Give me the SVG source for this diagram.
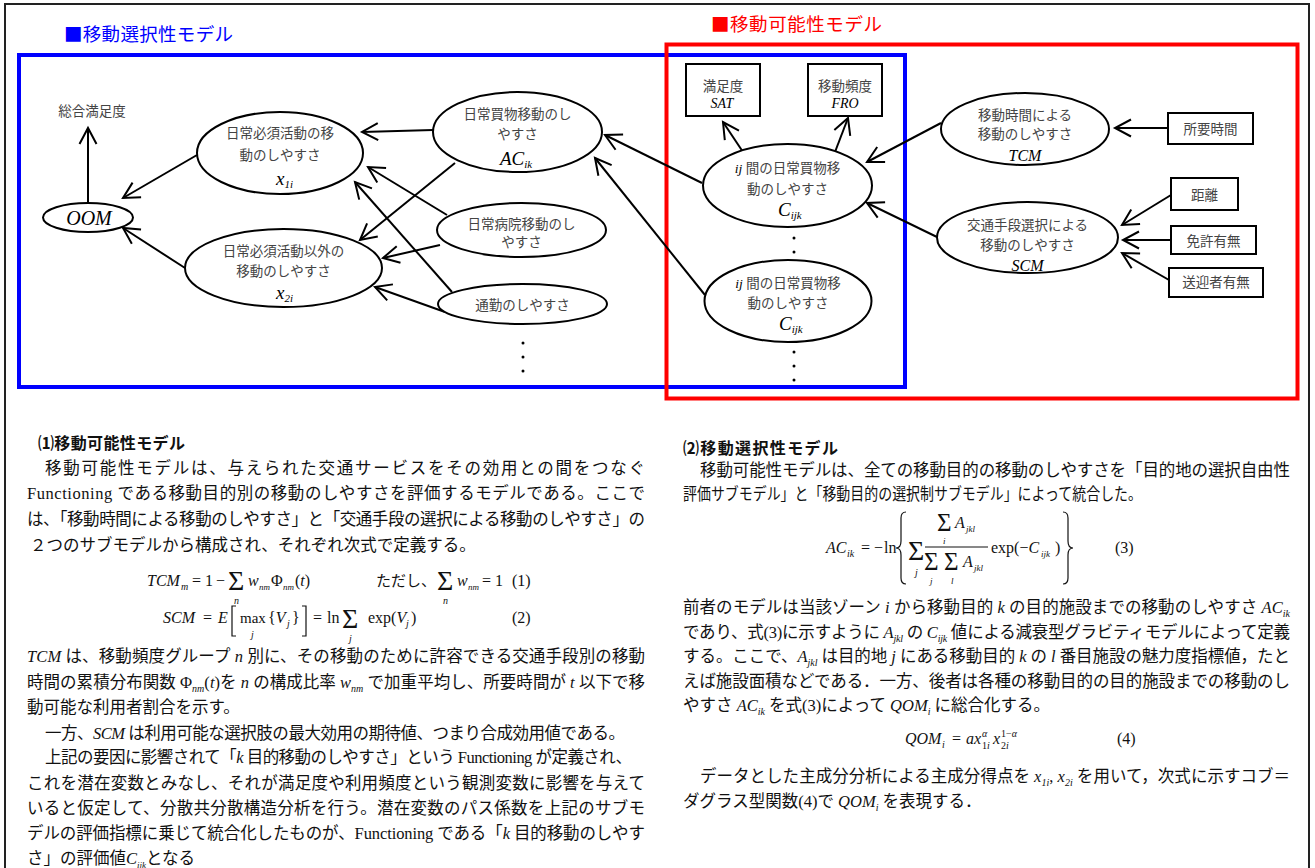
<svg xmlns="http://www.w3.org/2000/svg" width="1315" height="868" viewBox="0 0 1315 868">
<style>
.frame{fill:none;stroke:#222;stroke-width:2}
.nd ellipse,.nd rect{fill:#fff;stroke:#000;stroke-width:2}
.lbl{font-family:"Liberation Serif","Noto Sans CJK JP",serif;font-size:13.5px;fill:#444;text-anchor:middle}
.it{font-family:"Liberation Serif",serif;font-style:italic;fill:#000}
.conn line{stroke:#000;stroke-width:2;marker-end:url(#ah)}
.title{font-family:"Noto Sans CJK JP",sans-serif;font-size:18.5px}
.head{font-family:"Noto Sans CJK JP",sans-serif;font-size:16px;font-weight:bold;fill:#111}
.body{font-family:"Liberation Serif","Noto Sans CJK JP",serif;font-size:16.5px;fill:#111}
.eq{font-family:"Liberation Serif","Noto Sans CJK JP",serif;font-size:16px;fill:#111}
.sig{font-family:"Liberation Serif",serif}
.dot{fill:#000}
</style>
<defs>
<marker id="ah" markerUnits="userSpaceOnUse" markerWidth="22" markerHeight="22" viewBox="-19 -11 22 22" refX="0" refY="0" orient="auto" overflow="visible">
<path d="M-16,-8.5 L0,0 L-16,8.5" fill="none" stroke="#000" stroke-width="2"/>
</marker>
</defs>
<rect x="0" y="0" width="1315" height="868" fill="#fff"/>
<rect class="frame" x="5" y="4" width="1304" height="880"/>

<!-- frames -->
<g id="selectivity-frame">
<rect x="19" y="55" width="886" height="332" fill="none" stroke="#0000ff" stroke-width="4"/>
<text class="title" x="64" y="41" fill="#0000ff" textLength="169">■移動選択性モデル</text>
</g>
<g id="possibility-frame">
<rect x="666.5" y="44.5" width="631" height="354" fill="none" stroke="#ff0000" stroke-width="4"/>
<text class="title" x="711" y="31" fill="#ff0000" textLength="171">■移動可能性モデル</text>
</g>

<!-- connectors -->
<g id="connectors" class="conn">
<line x1="88" y1="203" x2="88" y2="128"/>
<line x1="197" y1="155" x2="123" y2="198"/>
<line x1="185" y1="268" x2="123" y2="228"/>
<line x1="433" y1="130" x2="362" y2="132"/>
<line x1="455" y1="163" x2="360" y2="240"/>
<line x1="447" y1="215" x2="368" y2="167"/>
<line x1="440" y1="245" x2="383" y2="258"/>
<line x1="452" y1="292" x2="355" y2="182"/>
<line x1="445" y1="312" x2="375" y2="287"/>
<line x1="702" y1="183" x2="605" y2="135"/>
<line x1="705" y1="295" x2="595" y2="158"/>
<line x1="743" y1="152" x2="723" y2="122"/>
<line x1="835" y1="152" x2="848" y2="118"/>
<line x1="941" y1="123" x2="867" y2="162"/>
<line x1="937" y1="237" x2="867" y2="203"/>
<line x1="1168" y1="128" x2="1115" y2="128"/>
<line x1="1171" y1="195" x2="1122" y2="225"/>
<line x1="1171" y1="240" x2="1123" y2="240"/>
<line x1="1169" y1="280" x2="1122" y2="253"/>
</g>

<!-- nodes -->
<g id="n-total">
<text class="lbl" x="92" y="116">総合満足度</text>
</g>
<g id="n-oom" class="nd">
<ellipse cx="88" cy="217.5" rx="45" ry="14.5"/>
<text class="it" x="89" y="225" font-size="20" text-anchor="middle">OOM</text>
</g>
<g id="n-x1" class="nd">
<ellipse cx="280" cy="153" rx="83" ry="41"/>
<text class="lbl" x="280" y="138">日常必須活動の移</text>
<text class="lbl" x="280" y="160">動のしやすさ</text>
<text class="it" x="276" y="185" font-size="19">x<tspan font-size="11" dy="3">1i</tspan></text>
</g>
<g id="n-x2" class="nd">
<ellipse cx="283.5" cy="268" rx="98.5" ry="39"/>
<text class="lbl" x="283.5" y="256">日常必須活動以外の</text>
<text class="lbl" x="283.5" y="276">移動のしやすさ</text>
<text class="it" x="276" y="299" font-size="19">x<tspan font-size="11" dy="3">2i</tspan></text>
</g>
<g id="n-ac" class="nd">
<ellipse cx="517.5" cy="132" rx="84.5" ry="40"/>
<text class="lbl" x="517.5" y="119">日常買物移動のし</text>
<text class="lbl" x="517.5" y="139">やすさ</text>
<text class="it" x="500" y="165" font-size="19">AC<tspan font-size="11" dy="3">ik</tspan></text>
</g>
<g id="n-hosp" class="nd">
<ellipse cx="521.5" cy="230" rx="84.5" ry="27"/>
<text class="lbl" x="521.5" y="229">日常病院移動のし</text>
<text class="lbl" x="521.5" y="247">やすさ</text>
</g>
<g id="n-commute" class="nd">
<ellipse cx="522.5" cy="304" rx="84.5" ry="20"/>
<text class="lbl" x="522.5" y="310">通勤のしやすさ</text>
</g>
<g id="dots-left">
<circle class="dot" cx="523" cy="343" r="1.5"/><circle class="dot" cx="523" cy="357" r="1.5"/><circle class="dot" cx="523" cy="371" r="1.5"/>
</g>
<g id="n-c1" class="nd">
<ellipse cx="787.5" cy="185.5" rx="84.5" ry="41.5"/>
<text class="lbl" x="787.5" y="173"><tspan class="it">ij</tspan> 間の日常買物移</text>
<text class="lbl" x="787.5" y="194">動のしやすさ</text>
<text class="it" x="778" y="216" font-size="19">C<tspan font-size="11" dy="3">ijk</tspan></text>
</g>
<g id="dots-mid">
<circle class="dot" cx="794" cy="238" r="1.5"/><circle class="dot" cx="794" cy="252" r="1.5"/>
</g>
<g id="n-c2" class="nd">
<ellipse cx="788" cy="301" rx="83.5" ry="41"/>
<text class="lbl" x="788" y="288"><tspan class="it">ij</tspan> 間の日常買物移</text>
<text class="lbl" x="788" y="308">動のしやすさ</text>
<text class="it" x="779" y="330" font-size="19">C<tspan font-size="11" dy="3">ijk</tspan></text>
</g>
<g id="dots-right">
<circle class="dot" cx="794" cy="352" r="1.5"/><circle class="dot" cx="794" cy="366" r="1.5"/><circle class="dot" cx="794" cy="380" r="1.5"/>
</g>
<g id="n-sat" class="nd">
<rect x="686" y="64" width="74" height="52"/>
<text class="lbl" x="723" y="91">満足度</text>
<text class="it" x="722" y="108" font-size="14" text-anchor="middle">SAT</text>
</g>
<g id="n-fro" class="nd">
<rect x="808" y="64" width="74" height="52"/>
<text class="lbl" x="845" y="91">移動頻度</text>
<text class="it" x="845" y="108" font-size="14" text-anchor="middle">FRO</text>
</g>
<g id="n-tcm" class="nd">
<ellipse cx="1025" cy="129" rx="84" ry="36"/>
<text class="lbl" x="1025" y="120">移動時間による</text>
<text class="lbl" x="1025" y="139">移動のしやすさ</text>
<text class="it" x="1025" y="161" font-size="16" text-anchor="middle">TCM</text>
</g>
<g id="n-time" class="nd">
<rect x="1168" y="113" width="85" height="31"/>
<text class="lbl" x="1210.5" y="134">所要時間</text>
</g>
<g id="n-scm" class="nd">
<ellipse cx="1027.5" cy="237.5" rx="90.5" ry="35.5"/>
<text class="lbl" x="1027.5" y="230">交通手段選択による</text>
<text class="lbl" x="1027.5" y="250">移動のしやすさ</text>
<text class="it" x="1027.5" y="271" font-size="16" text-anchor="middle">SCM</text>
</g>
<g id="n-dist" class="nd">
<rect x="1171" y="178" width="67" height="32"/>
<text class="lbl" x="1204.5" y="200">距離</text>
</g>
<g id="n-license" class="nd">
<rect x="1171" y="226" width="85" height="28"/>
<text class="lbl" x="1213.5" y="246">免許有無</text>
</g>
<g id="n-pickup" class="nd">
<rect x="1169" y="268" width="94" height="29"/>
<text class="lbl" x="1216" y="287">送迎者有無</text>
</g>

<!-- left column text -->
<g id="text-left">
<text class="head" x="38" y="449" textLength="147">⑴移動可能性モデル</text>
<text class="body" x="45" y="474" textLength="600">移動可能性モデルは、与えられた交通サービスをその効用との間をつなぐ</text>
<text class="body" x="27" y="499" textLength="618">Functioning である移動目的別の移動のしやすさを評価するモデルである。ここで</text>
<text class="body" x="27" y="525" textLength="618">は、「移動時間による移動のしやすさ」と「交通手段の選択による移動のしやすさ」の</text>
<text class="body" x="30" y="551">２つのサブモデルから構成され、それぞれ次式で定義する。</text>

<g id="eq1" class="eq">
<text x="147" y="586" font-style="italic">TCM</text>
<text x="181" y="590" font-size="10" font-style="italic">m</text>
<text x="192" y="586">=</text><text x="205" y="586">1</text><text x="216" y="586">−</text>
<text class="sig" x="228" y="590" font-size="28">Σ</text>
<text x="234" y="604" font-size="10" font-style="italic">n</text>
<text x="248" y="586" font-style="italic">w</text>
<text x="259" y="590" font-size="9" font-style="italic">nm</text>
<text x="271" y="586">Φ</text>
<text x="283" y="590" font-size="9" font-style="italic">nm</text>
<text x="295" y="586">(<tspan font-style="italic">t</tspan>)</text>
<text x="376" y="586" font-size="15">ただし、</text>
<text class="sig" x="437" y="590" font-size="28">Σ</text>
<text x="443" y="604" font-size="10" font-style="italic">n</text>
<text x="457" y="586" font-style="italic">w</text>
<text x="468" y="590" font-size="9" font-style="italic">nm</text>
<text x="482" y="586">=</text><text x="495" y="586">1</text>
<text x="512" y="586">(1)</text>
</g>
<g id="eq2" class="eq">
<text x="163" y="623" font-style="italic">SCM</text>
<text x="203" y="623">=</text>
<text x="218" y="623" font-style="italic">E</text>
<path d="M236,606 L232,606 L232,636 L236,636" fill="none" stroke="#111" stroke-width="1.2"/>
<text x="240" y="623" font-size="15">max</text>
<text x="251" y="638" font-size="10" font-style="italic">j</text>
<text x="268" y="623">{<tspan font-style="italic">V</tspan></text>
<text x="287" y="627" font-size="10" font-style="italic">j</text>
<text x="292" y="623">}</text>
<path d="M302,606 L306,606 L306,636 L302,636" fill="none" stroke="#111" stroke-width="1.2"/>
<text x="313" y="623">=</text>
<text x="327" y="623">ln</text>
<text class="sig" x="342" y="628" font-size="28">Σ</text>
<text x="349" y="642" font-size="10" font-style="italic">j</text>
<text x="368" y="623">exp(<tspan font-style="italic">V</tspan></text>
<text x="406" y="627" font-size="10" font-style="italic">j</text>
<text x="411" y="623">)</text>
<text x="512" y="623">(2)</text>
</g>

<text class="body" x="27" y="662" textLength="618"><tspan font-style="italic">TCM</tspan> は、移動頻度グループ <tspan font-style="italic">n</tspan> 別に、その移動のために許容できる交通手段別の移動</text>
<text class="body" x="27" y="688" textLength="618">時間の累積分布関数 Φ<tspan font-size="10" font-style="italic" dy="4">nm</tspan><tspan dy="-4">(</tspan><tspan font-style="italic">t</tspan>)を <tspan font-style="italic">n</tspan> の構成比率 <tspan font-style="italic">w</tspan><tspan font-size="10" font-style="italic" dy="4">nm</tspan><tspan dy="-4"> で加重平均し、所要時間が </tspan><tspan font-style="italic">t</tspan> 以下で移</text>
<text class="body" x="27" y="713">動可能な利用者割合を示す。</text>
<text class="body" x="45" y="739" textLength="580">一方、<tspan font-style="italic">SCM</tspan> は利用可能な選択肢の最大効用の期待値、つまり合成効用値である。</text>
<text class="body" x="45" y="763" textLength="587">上記の要因に影響されて「<tspan font-style="italic">k</tspan> 目的移動のしやすさ」という Functioning が定義され、</text>
<text class="body" x="27" y="789" textLength="618">これを潜在変数とみなし、それが満足度や利用頻度という観測変数に影響を与えて</text>
<text class="body" x="27" y="814" textLength="618">いると仮定して、分散共分散構造分析を行う。潜在変数のパス係数を上記のサブモ</text>
<text class="body" x="27" y="839" textLength="618">デルの評価指標に乗じて統合化したものが、Functioning である「<tspan font-style="italic">k</tspan> 目的移動のしやす</text>
<text class="body" x="27" y="864" font-size="15.5">さ」の評価値<tspan font-style="italic">C</tspan><tspan font-size="9" font-style="italic" dy="4">ijk</tspan><tspan dy="-4">となる</tspan></text>
</g>

<!-- right column text -->
<g id="text-right">
<text class="head" x="683" y="454" textLength="155">⑵移動選択性モデル</text>
<text class="body" x="700" y="476" textLength="590">移動可能性モデルは、全ての移動目的の移動のしやすさを「目的地の選択自由性</text>
<text class="body" x="683" y="500" textLength="459" lengthAdjust="spacingAndGlyphs">評価サブモデル」と「移動目的の選択制サブモデル」によって統合した。</text>

<g id="eq3" class="eq">
<text x="826" y="553" font-style="italic">AC</text>
<text x="847" y="557" font-size="10" font-style="italic">ik</text>
<text x="861" y="553">=</text><text x="874" y="553">−</text><text x="884" y="553">ln</text>
<path d="M906,512 Q901,512 901,518 L901,541 Q901,548 896,548 Q901,548 901,555 L901,578 Q901,584 906,584" fill="none" stroke="#111" stroke-width="1.2"/>
<text class="sig" x="908" y="560" font-size="28">Σ</text>
<text x="915" y="576" font-size="10" font-style="italic">j</text>
<text class="sig" x="937" y="531" font-size="25">Σ</text>
<text x="943" y="544" font-size="9" font-style="italic">i</text>
<text x="955" y="528" font-style="italic">A</text>
<text x="966" y="532" font-size="9" font-style="italic">jkl</text>
<line x1="925" y1="547" x2="988" y2="547" stroke="#111" stroke-width="1"/>
<text class="sig" x="924" y="570" font-size="25">Σ</text>
<text x="930" y="584" font-size="9" font-style="italic">j</text>
<text class="sig" x="944" y="570" font-size="25">Σ</text>
<text x="951" y="584" font-size="9" font-style="italic">l</text>
<text x="963" y="567" font-style="italic">A</text>
<text x="974" y="571" font-size="9" font-style="italic">jkl</text>
<text x="991" y="553">exp(−<tspan font-style="italic">C</tspan></text>
<text x="1041" y="557" font-size="9" font-style="italic">ijk</text>
<text x="1055" y="553">)</text>
<path d="M1063,512 Q1068,512 1068,518 L1068,541 Q1068,548 1073,548 Q1068,548 1068,555 L1068,578 Q1068,584 1063,584" fill="none" stroke="#111" stroke-width="1.2"/>
<text x="1115" y="553">(3)</text>
</g>

<text class="body" x="683" y="613" textLength="607">前者のモデルは当該ゾーン <tspan font-style="italic">i</tspan> から移動目的 <tspan font-style="italic">k</tspan> の目的施設までの移動のしやすさ <tspan font-style="italic">AC</tspan><tspan font-size="10" font-style="italic" dy="4">ik</tspan></text>
<text class="body" x="683" y="638" textLength="607">であり、式(3)に示すように <tspan font-style="italic">A</tspan><tspan font-size="10" font-style="italic" dy="4">jkl</tspan><tspan dy="-4"> の </tspan><tspan font-style="italic">C</tspan><tspan font-size="10" font-style="italic" dy="4">ijk</tspan><tspan dy="-4"> 値による減衰型グラビティモデルによって定義</tspan></text>
<text class="body" x="683" y="662" textLength="607">する。ここで、<tspan font-style="italic">A</tspan><tspan font-size="10" font-style="italic" dy="4">jkl</tspan><tspan dy="-4"> は目的地 </tspan><tspan font-style="italic">j</tspan> にある移動目的 <tspan font-style="italic">k</tspan> の <tspan font-style="italic">l</tspan> 番目施設の魅力度指標値，たと</text>
<text class="body" x="683" y="687" textLength="607">えば施設面積などである．一方、後者は各種の移動目的の目的施設までの移動のし</text>
<text class="body" x="683" y="711">やすさ <tspan font-style="italic">AC</tspan><tspan font-size="10" font-style="italic" dy="4">ik</tspan><tspan dy="-4"> を式(3)によって </tspan><tspan font-style="italic">QOM</tspan><tspan font-size="10" font-style="italic" dy="4">i</tspan><tspan dy="-4"> に総合化する。</tspan></text>

<g id="eq4" class="eq">
<text x="905" y="744" font-style="italic">QOM</text>
<text x="942" y="748" font-size="10" font-style="italic">i</text>
<text x="952" y="744">=</text>
<text x="966" y="744" font-style="italic">ax</text>
<text x="982" y="737" font-size="10" font-style="italic">α</text>
<text x="982" y="749" font-size="10">1<tspan font-style="italic">i</tspan></text>
<text x="993" y="744" font-style="italic">x</text>
<text x="1001" y="737" font-size="10">1−<tspan font-style="italic">α</tspan></text>
<text x="1001" y="749" font-size="10">2<tspan font-style="italic">i</tspan></text>
<text x="1117" y="744">(4)</text>
</g>

<text class="body" x="700" y="782" textLength="590">データとした主成分分析による主成分得点を <tspan font-style="italic">x</tspan><tspan font-size="10" font-style="italic" dy="4">1i</tspan><tspan dy="-4">,  </tspan><tspan font-style="italic">x</tspan><tspan font-size="10" font-style="italic" dy="4">2i</tspan><tspan dy="-4"> を用いて，次式に示すコブ＝</tspan></text>
<text class="body" x="683" y="807">ダグラス型関数(4)で <tspan font-style="italic">QOM</tspan><tspan font-size="10" font-style="italic" dy="4">i</tspan><tspan dy="-4"> を表現する．</tspan></text>
</g>
</svg>
